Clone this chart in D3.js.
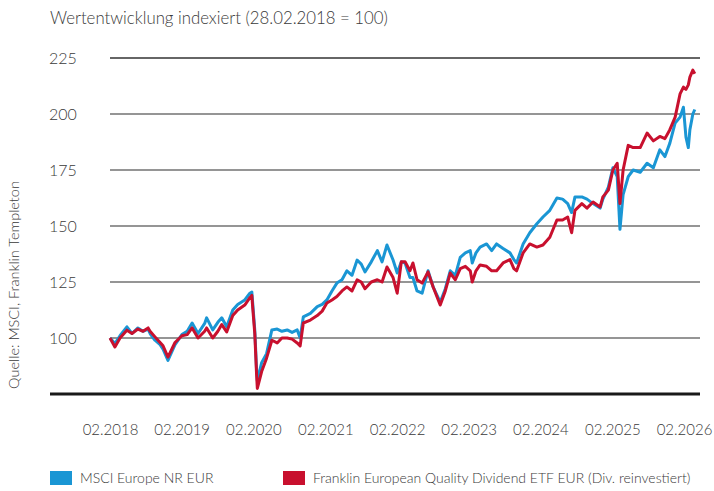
<!DOCTYPE html>
<html>
<head>
<meta charset="utf-8">
<script src="https://cdn.jsdelivr.net/npm/d3@7"></script>
<style>
  body { margin: 0; background: #fff; }
  svg text { font-family: Lato, "Open Sans", sans-serif; font-weight: 300; fill: #3a3a3a; }
</style>
</head>
<body>
<svg id="chart"></svg>
<script>
var width = 714;
var height = 491;

// data
var dates = [
  "2018-02-28","2018-03-25","2018-04-20","2018-05-25","2018-06-20","2018-07-20","2018-08-15","2018-09-10","2018-09-20","2018-10-15",
  "2018-11-10","2018-11-25","2018-12-20","2019-01-25","2019-03-01","2019-03-28","2019-04-22","2019-05-22","2019-06-25","2019-07-05",
  "2019-08-05","2019-08-31","2019-09-20","2019-10-15","2019-11-15","2019-12-10","2020-01-15","2020-02-10","2020-02-20","2020-02-25",
  "2020-03-06","2020-03-15","2020-03-19","2020-04-10","2020-05-05","2020-06-01","2020-06-28","2020-07-22","2020-08-18","2020-09-12",
  "2020-10-08","2020-10-23","2020-11-08","2020-12-14","2021-01-18","2021-02-12","2021-03-08","2021-04-03","2021-04-28","2021-05-24",
  "2021-06-18","2021-07-14","2021-08-09","2021-08-30","2021-09-18","2021-10-20","2021-11-20","2021-12-14","2022-01-08","2022-02-08",
  "2022-03-01","2022-03-22","2022-04-10","2022-05-05","2022-05-20","2022-06-10","2022-07-06","2022-08-05","2022-08-31","2022-10-06",
  "2022-11-01","2022-11-26","2022-12-22","2023-01-16","2023-02-11","2023-03-08","2023-03-18","2023-04-06","2023-04-27","2023-05-30",
  "2023-06-25","2023-07-20","2023-08-22","2023-09-26","2023-10-16","2023-10-30","2023-12-02","2024-01-05","2024-02-10","2024-03-12",
  "2024-04-16","2024-05-22","2024-06-20","2024-07-16","2024-08-05","2024-08-22","2024-09-26","2024-10-22","2024-11-22","2024-12-28",
  "2025-01-11","2025-02-08","2025-03-03","2025-03-25","2025-04-08","2025-04-24","2025-05-20","2025-06-14","2025-07-20","2025-08-24",
  "2025-09-25","2025-10-28","2025-11-23","2025-12-18","2026-01-14","2026-02-08","2026-02-25","2026-03-10","2026-03-22","2026-03-30",
  "2026-04-14","2026-04-24"
];

var msciValues = [
  100, 97.5, 101, 105, 102, 104.5, 103, 104, 102, 99,
  97, 95, 90, 97, 101.5, 103, 106.7, 102, 106.5, 109,
  103.6, 107, 109, 105, 112.5, 115, 117, 120, 120.5, 115,
  103.6, 86, 81, 89, 93, 103.6, 104, 103, 103.6, 102.5,
  103.6, 100, 109.4, 111, 114, 115, 117, 121, 124.5, 126,
  130, 128, 134.8, 133, 129.5, 134, 139, 134, 141.5, 134.8,
  129, 134, 133.5, 127, 127, 121, 120, 130, 122.8, 116,
  122, 130, 128, 136, 138, 139, 133.5, 138, 140.6, 142,
  139, 142, 140, 138, 135, 133.5, 142, 147, 151, 154,
  157, 162.5, 162, 160, 156, 163, 163, 162, 160, 158,
  162, 167.4, 176, 172, 148.5, 164, 172, 175, 174, 178,
  176, 184, 181, 187, 196, 198.6, 203, 189.7, 185, 193,
  200, 202
];

var franklinValues = [
  100, 96, 100, 103.5, 102, 104, 103, 104.5, 103, 100.5,
  98, 96.5, 91.5, 98, 101, 101.5, 104.5, 100, 103, 104.5,
  100, 103, 106, 102.7, 110, 112.5, 114.7, 118, 119, 113,
  102, 84, 77.5, 85, 91, 99, 97.8, 100, 100, 99.5,
  97.8, 96.5, 106.7, 108, 110, 112, 115.6, 117, 118.5, 121,
  122.8, 121, 126, 125, 122, 125, 126, 125, 131.7, 127,
  120, 134, 134, 130, 133.5, 126, 124.5, 129.5, 122.8, 114.7,
  121, 129, 126, 131, 132, 130, 125, 130, 132.6, 132,
  130, 130, 133.5, 135, 131, 130, 138, 142, 140.6, 141.5,
  145, 152.7, 152.7, 154, 147, 157, 160, 158, 160.7, 158.5,
  163, 166, 175, 178, 160, 175, 186, 185, 185, 191.5,
  188, 190, 189, 193, 198.6, 209, 212, 211, 213, 216.5,
  219.6, 218
];

var yTicks = [100, 125, 150, 175, 200, 225];
var xTickYears = [2018, 2019, 2020, 2021, 2022, 2023, 2024, 2025, 2026];

var seriesNames = ["MSCI Europe NR EUR", "Franklin European Quality Dividend ETF EUR (Div. reinvestiert)"];
var seriesColors = ["#1a96d4", "#c8102e"];

var parseDate = d3.timeParse("%Y-%m-%d");

var series = [msciValues, franklinValues].map(function(vals, s) {
  return {
    name: seriesNames[s],
    color: seriesColors[s],
    values: vals.map(function(v, i) { return { date: parseDate(dates[i]), value: v }; })
  };
});

var svg = d3.select("#chart")
  .attr("width", width)
  .attr("height", height);

var x = d3.scaleTime()
  .domain([new Date(2018, 1, 28), new Date(2026, 1, 28)])
  .range([110, 684]);

var y = d3.scaleLinear()
  .domain([75, 225])
  .range([394, 58]);

// title
svg.append("text")
  .attr("x", 50)
  .attr("y", 24)
  .attr("font-size", 16.8)
  .text("Wertentwicklung indexiert (28.02.2018 = 100)");

// source, rotated
svg.append("text")
  .attr("transform", "translate(19,285) rotate(-90)")
  .attr("text-anchor", "middle")
  .attr("font-size", 14.5)
  .text("Quelle: MSCI, Franklin Templeton");

// grid lines
svg.append("g").selectAll("line")
  .data(yTicks)
  .enter().append("line")
  .attr("x1", 110)
  .attr("x2", 700)
  .attr("y1", function(d) { return y(d); })
  .attr("y2", function(d) { return y(d); })
  .attr("stroke", function(d) { return d === 225 ? "#333" : "#959595"; })
  .attr("stroke-width", function(d) { return d === 225 ? 1.5 : 2; });

// y tick labels
svg.append("g").selectAll("text")
  .data(yTicks)
  .enter().append("text")
  .attr("x", 49)
  .attr("y", function(d) { return y(d); })
  .attr("dy", "0.35em")
  .attr("font-size", 16)
  .text(function(d) { return d; });

// x axis labels
var xAxis = d3.axisBottom(x)
  .tickValues(xTickYears.map(function(yr) { return new Date(yr, 1, 28); }))
  .tickFormat(d3.timeFormat("%m.%Y"))
  .tickSize(0)
  .tickPadding(0);

var gx = svg.append("g")
  .attr("transform", "translate(0,430)")
  .call(xAxis);
gx.select(".domain").remove();
gx.selectAll("text")
  .attr("dy", "0.35em")
  .attr("font-size", 15)
  .attr("font-family", null)
  .attr("fill", null);

// lines
var line = d3.line()
  .x(function(d) { return x(d.date); })
  .y(function(d) { return y(d.value); });

svg.append("g").selectAll("path")
  .data(series)
  .enter().append("path")
  .attr("d", function(d) { return line(d.values); })
  .attr("fill", "none")
  .attr("stroke", function(d) { return d.color; })
  .attr("stroke-width", 3)
  .attr("stroke-linejoin", "round");

// base line
svg.append("line")
  .attr("x1", 50)
  .attr("x2", 700)
  .attr("y1", y(75))
  .attr("y2", y(75))
  .attr("stroke", "#1a1a1a")
  .attr("stroke-width", 3);

// legend
var legendX = [50, 283];
var legend = svg.append("g").selectAll("g")
  .data(series)
  .enter().append("g")
  .attr("transform", function(d, i) { return "translate(" + legendX[i] + ",471)"; });

legend.append("rect")
  .attr("width", 22)
  .attr("height", 14)
  .attr("fill", function(d) { return d.color; });

legend.append("text")
  .attr("x", 30)
  .attr("y", 7)
  .attr("dy", "0.35em")
  .attr("font-size", 14)
  .text(function(d) { return d.name; });
</script>
</body>
</html>
